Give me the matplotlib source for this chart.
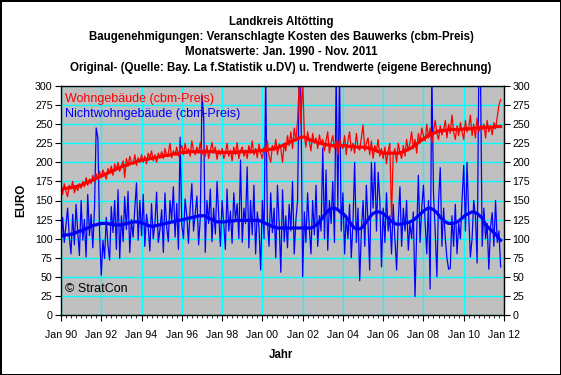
import matplotlib
matplotlib.use('Agg')
import matplotlib.pyplot as plt
import matplotlib.dates as mdates
from matplotlib.ticker import MultipleLocator
import pandas as pd

plt.rcParams['font.family'] = ['Liberation Sans', 'DejaVu Sans']

months = pd.date_range('1990-01-01', periods=263, freq='MS')

# Wohngebäude (cbm-Preis), Originalwerte
wohn = [
    168, 158, 172, 162, 155, 170, 165, 175, 160, 168, 163, 172,
    166, 175, 168, 180, 170, 178, 172, 183, 175, 185, 178, 188,
    180, 190, 184, 178, 192, 186, 195, 183, 198, 190, 200, 188,
    196, 202, 180, 205, 195, 208, 200, 198, 210, 196, 206, 200,
    210, 200, 208, 198, 212, 205, 215, 202, 210, 200, 212, 206,
    214, 205, 218, 208, 212, 225, 206, 215, 210, 220, 208, 216,
    222, 210, 225, 212, 218, 208, 228, 215, 210, 220, 212, 226,
    210, 218, 208, 222, 205, 215, 226, 212, 220, 204, 216, 210,
    218, 205, 212, 225, 208, 216, 202, 220, 210, 226, 205, 215,
    220, 208, 216, 205, 222, 212, 228, 210, 218, 206, 224, 212,
    205, 220, 212, 228, 208, 200, 222, 215, 230, 210, 224, 218,
    200, 225, 215, 235, 222, 240, 218, 245, 228, 255, 305, 250,
    310, 235, 220, 240, 228, 215, 238, 225, 232, 218, 236, 224,
    230, 215, 228, 240, 212, 226, 235, 218, 228, 210, 232, 222,
    218, 235, 210, 228, 240, 215, 225, 212, 238, 220, 216, 232,
    249, 215, 225, 232, 210, 228, 205, 222, 215, 230, 208, 218,
    205, 220, 198, 215, 225, 128, 210, 218, 200, 225, 212, 205,
    222, 208, 230, 215, 225, 240, 218, 230, 212, 238, 225, 245,
    235, 228, 250, 232, 245, 225, 240, 255, 238, 230, 248, 236,
    242, 255, 232, 250, 238, 262, 240, 230, 248, 235, 252, 240,
    230, 255, 240, 245, 262, 235, 250, 232, 258, 240, 248, 245,
    250, 232, 255, 240, 248, 236, 252, 244, 260, 275, 282,
]

# Wohngebäude, Trendwerte
wohn_trend = [
    165, 165, 166, 166, 166, 167, 167, 167, 168, 168, 169, 169,
    170, 171, 172, 173, 174, 175, 176, 177, 178, 179, 180, 181,
    182, 183, 184, 185, 186, 187, 188, 189, 190, 191, 192, 193,
    194, 195, 196, 196, 197, 198, 199, 199, 200, 201, 202, 202,
    203, 203, 204, 204, 204, 205, 205, 206, 206, 206, 207, 207,
    208, 208, 209, 209, 209, 210, 210, 211, 211, 211, 212, 212,
    213, 213, 213, 213, 214, 214, 214, 214, 214, 214, 214, 214,
    214, 214, 214, 214, 214, 214, 214, 214, 214, 213, 213, 213,
    213, 213, 213, 213, 213, 213, 213, 213, 213, 213, 214, 214,
    214, 214, 214, 214, 214, 214, 214, 214, 215, 215, 215, 215,
    216, 216, 216, 216, 217, 217, 218, 218, 219, 219, 220, 221,
    222, 223, 224, 225, 226, 227, 228, 229, 230, 231, 232, 233,
    233, 233, 232, 231, 230, 229, 228, 228, 227, 226, 225, 225,
    224, 224, 223, 223, 223, 222, 222, 222, 222, 222, 222, 222,
    222, 222, 222, 221, 221, 221, 221, 221, 220, 220, 220, 220,
    220, 219, 219, 219, 218, 218, 217, 216, 215, 214, 214, 213,
    212, 212, 212, 212, 212, 212, 212, 212, 212, 212, 213, 213,
    214, 215, 216, 217, 218, 219, 221, 222, 224, 226, 228, 229,
    231, 232, 234, 235, 236, 237, 238, 239, 240, 241, 241, 242,
    242, 242, 242, 243, 243, 243, 243, 243, 243, 243, 243, 243,
    244, 244, 244, 244, 244, 244, 245, 245, 245, 245, 245, 245,
    245, 246, 246, 246, 246, 246, 246, 247, 247, 247, 247,
]

# Nichtwohngebäude (cbm-Preis), Originalwerte
nicht = [
    88, 128, 95, 118, 140, 102, 80, 132, 92, 145, 108, 78,
    150, 98, 125, 76, 158, 104, 132, 88, 140, 245, 232, 110,
    52, 98, 74, 128, 92, 72, 142, 108, 150, 86, 164, 74,
    130, 96, 155, 112, 162, 82, 125, 102, 140, 173, 98, 150,
    104, 158, 90, 132, 116, 84, 146, 100, 120, 161, 95, 112,
    138, 82, 160, 116, 96, 150, 124, 168, 102, 146, 86, 233,
    118, 100, 152, 130, 94, 140, 172, 110, 134, 156, 92, 126,
    288, 260, 82, 150, 120, 165, 96, 140, 106, 175, 130, 90,
    150, 118, 86, 165, 110, 136, 94, 160, 124, 146, 100, 203,
    95, 140, 120, 194, 88, 150, 105, 170, 80, 135, 115, 59,
    150, 100, 315, 125, 90, 160, 108, 140, 75, 170, 120, 56,
    164, 96, 130, 88, 145, 110, 175, 80, 125, 150, 320, 280,
    50, 135, 95, 160, 115, 80, 150, 105, 170, 90, 130, 110,
    219, 100, 190, 85, 150, 120, 175, 95, 320, 140, 318, 110,
    160, 80, 130, 100, 145, 75, 120, 200, 95, 140, 45, 110,
    150, 90, 170, 120, 59, 200, 140, 200, 110, 187, 150, 63,
    140, 95, 160, 110, 130, 80, 145, 100, 59, 125, 168, 90,
    140, 110, 150, 85, 120, 100, 135, 24, 110, 183, 95, 140,
    170, 120, 80, 150, 34, 320, 160, 110, 50, 150, 193, 90,
    140, 100, 75, 60, 61, 130, 90, 145, 80, 120, 100, 150,
    196, 110, 200, 130, 76, 100, 150, 130, 68, 320, 315, 90,
    140, 100, 120, 60, 115, 134, 90, 150, 95, 110, 63,
]

# Nichtwohngebäude, Trendwerte
nicht_trend = [
    104, 104, 104, 105, 105, 105, 106, 106, 107, 108, 109, 110,
    110, 111, 112, 113, 114, 115, 116, 117, 118, 118, 119, 119,
    120, 120, 120, 120, 120, 119, 119, 119, 118, 118, 118, 118,
    118, 119, 119, 120, 120, 121, 121, 122, 122, 122, 122, 121,
    121, 120, 119, 118, 117, 117, 116, 116, 117, 117, 118, 118,
    119, 119, 120, 120, 121, 121, 122, 122, 123, 123, 124, 124,
    125, 125, 126, 126, 127, 127, 128, 128, 129, 129, 130, 130,
    130, 130, 129, 128, 127, 126, 125, 124, 123, 122, 122, 122,
    122, 122, 122, 123, 123, 123, 123, 123, 124, 124, 124, 124,
    124, 124, 124, 124, 124, 124, 124, 124, 124, 124, 124, 123,
    122, 121, 120, 119, 118, 117, 116, 115, 115, 114, 114, 114,
    114, 114, 114, 114, 114, 114, 114, 114, 114, 114, 114, 114,
    114, 114, 114, 114, 114, 114, 115, 116, 118, 120, 122, 125,
    128, 131, 134, 136, 138, 139, 140, 140, 139, 138, 136, 134,
    133, 131, 128, 125, 122, 119, 116, 114, 113, 113, 113, 114,
    116, 119, 122, 125, 128, 131, 133, 134, 135, 135, 135, 134,
    133, 131, 129, 127, 125, 123, 121, 120, 119, 119, 119, 119,
    120, 120, 121, 121, 122, 123, 124, 126, 128, 130, 132, 134,
    136, 138, 139, 140, 140, 139, 138, 136, 134, 131, 128, 126,
    124, 122, 121, 120, 120, 120, 120, 121, 122, 123, 125, 127,
    129, 131, 132, 133, 134, 135, 135, 134, 133, 131, 129, 127,
    122, 119, 116, 114, 112, 110, 108, 106, 103, 100, 98,
]

assert len(wohn) == len(wohn_trend) == len(nicht) == len(nicht_trend) == len(months)

titles = [
    "Landkreis Altötting",
    "Baugenehmigungen: Veranschlagte Kosten des Bauwerks (cbm-Preis)",
    "Monatswerte: Jan. 1990 - Nov. 2011",
    "Original- (Quelle: Bay. La f.Statistik u.DV) u. Trendwerte (eigene Berechnung)",
]
legend_labels = ["Wohngebäude (cbm-Preis)", "Nichtwohngebäude (cbm-Preis)"]

W, H = 561, 375
fig = plt.figure(figsize=(W / 100, H / 100), dpi=100, facecolor='white',
                 edgecolor='black', linewidth=2)
L, R, T, B = 61, 504, 86, 315
ax = fig.add_axes([L / W, 1 - B / H, (R - L) / W, (B - T) / H])
ax.set_facecolor('#C0C0C0')

ax.plot(months, nicht, color='#0000FF', lw=0.9, zorder=3)
ax.plot(months, nicht_trend, color='#0000FF', lw=2.3, zorder=4)
ax.plot(months, wohn, color='#FF0000', lw=0.9, zorder=5)
ax.plot(months, wohn_trend, color='#FF0000', lw=2.3, zorder=6)

ax.set_ylim(0, 300)
ax.set_xlim(pd.Timestamp('1990-01-01'), pd.Timestamp('2012-01-01'))
ax.yaxis.set_major_locator(MultipleLocator(25))
ax.xaxis.set_major_locator(mdates.YearLocator(2))
ax.xaxis.set_major_formatter(mdates.DateFormatter('%b %y'))
ax.xaxis.set_minor_locator(mdates.MonthLocator(bymonth=[1, 4, 7, 10]))
ax.grid(True, which='major', color='#00FFFF', lw=1.0, zorder=1)
ax.set_axisbelow(True)

ax.tick_params(axis='y', which='major', direction='out', length=4, labelsize=7.7,
               left=True, right=True, labelleft=True, labelright=True, pad=2,
               colors='black')
ax.tick_params(axis='x', which='major', direction='out', length=4, labelsize=7.7, pad=7)
ax.tick_params(axis='x', which='minor', direction='out', length=2)
for sp in ax.spines.values():
    sp.set_color('black')
    sp.set_linewidth(1.0)
    sp.set_zorder(10)

# Titles
ys = [22.5, 37, 52, 67.5]
for t, y in zip(titles, ys):
    fig.text(281 / W, 1 - y / H, t, ha='center', va='center', fontsize=8.3,
             fontweight='bold', color='black')

# Legend-like labels inside the plot
fig.text(65 / W, 1 - 99 / H, legend_labels[0], ha='left', va='center', fontsize=9,
         color='#FF0000')
fig.text(65 / W, 1 - 114 / H, legend_labels[1], ha='left', va='center', fontsize=9,
         color='#0000FF')
fig.text(65 / W, 1 - 289 / H, "© StratCon", ha='left', va='center', fontsize=9,
         color='black')

fig.text(21 / W, 1 - 200 / H, "EURO", rotation=90, ha='center', va='center',
         fontsize=8.3, fontweight='bold')
fig.text(281 / W, 1 - 355 / H, "Jahr", ha='center', va='center', fontsize=8.3,
         fontweight='bold')

fig.savefig('out.png', dpi=100, facecolor='white', edgecolor='black')
